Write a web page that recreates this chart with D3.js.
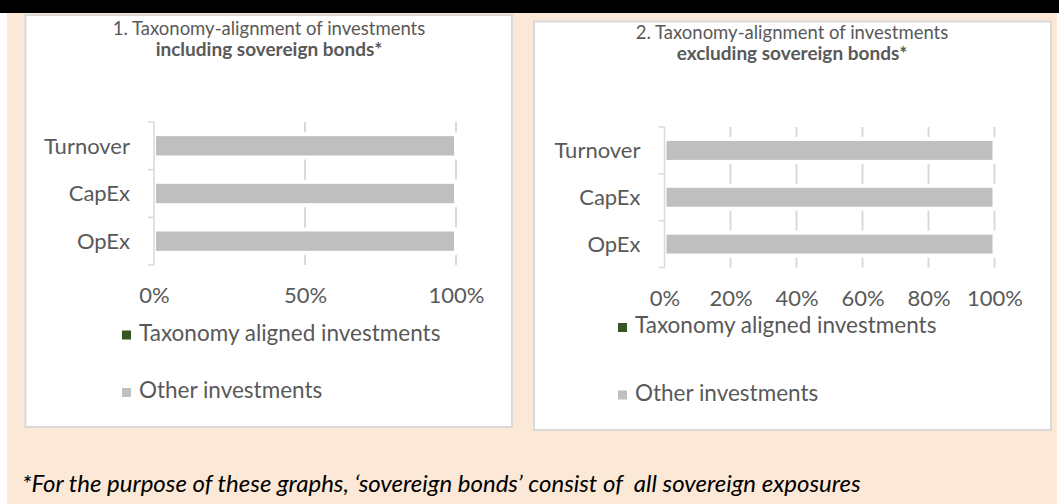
<!DOCTYPE html>
<html>
<head>
<meta charset="utf-8">
<script src="https://cdn.jsdelivr.net/npm/d3@7"></script>
<style>
  body { margin: 0; background: #fff; }
  svg { display: block; font-family: Lato, "Open Sans", sans-serif; }
</style>
</head>
<body>
<script>
// Chart data
const categories = ["Turnover", "CapEx", "OpEx"];
const alignedIncl = [0, 0, 0];
const otherIncl = [100, 100, 100];
const alignedExcl = [0, 0, 0];
const otherExcl = [100, 100, 100];
const ticksIncl = [0, 50, 100];
const ticksExcl = [0, 20, 40, 60, 80, 100];
const seriesNames = ["Taxonomy aligned investments", "Other investments"];
const seriesColors = ["#375623", "#bfbfbf"];
const footnote = "*For the purpose of these graphs, \u2018sovereign bonds\u2019 consist of  all sovereign exposures";

const W = 1059, H = 504;
const textCol = "#595959";
const gridCol = "#d9d9d9";

const svg = d3.select("body").append("svg")
  .attr("width", W)
  .attr("height", H);

// page background: black strip on top, peach area
svg.append("rect").attr("width", W).attr("height", H).attr("fill", "#fff");
svg.append("rect").attr("width", W).attr("height", 13).attr("fill", "#000");
svg.append("rect").attr("x", 7).attr("y", 13).attr("width", 1050).attr("height", H - 13).attr("fill", "#fbe8d7");

function drawPanel(cfg) {
  const g = svg.append("g");

  // white card
  g.append("rect")
    .attr("x", cfg.box[0]).attr("y", cfg.box[1])
    .attr("width", cfg.box[2]).attr("height", cfg.box[3])
    .attr("fill", "#fff")
    .attr("stroke", gridCol)
    .attr("stroke-width", 2);

  // title
  const title = g.append("text")
    .attr("text-anchor", "middle")
    .attr("fill", textCol);
  title.append("tspan")
    .attr("x", cfg.titleX).attr("y", cfg.titleY)
    .style("font-size", "18.5px")
    .text(cfg.title1);
  title.append("tspan")
    .attr("x", cfg.titleX).attr("y", cfg.titleY + 21)
    .attr("font-weight", "bold")
    .style("font-size", "19px")
    .text(cfg.title2);

  const x = d3.scaleLinear().domain([0, 100]).range(cfg.xRange);
  const y = d3.scaleBand().domain(categories).range(cfg.yRange).padding(0);
  const step = y.step();
  const barH = step * 0.49;

  // vertical gridlines
  g.selectAll(".grid")
    .data(cfg.ticks.filter(d => d > 0))
    .enter().append("line")
    .attr("x1", d => x(d)).attr("x2", d => x(d))
    .attr("y1", cfg.yRange[0]).attr("y2", cfg.yRange[1])
    .attr("stroke", gridCol)
    .attr("stroke-width", 2);

  // stacked bars
  const rows = categories.map((c, i) => ({
    cat: c,
    parts: [
      { x0: 0, x1: cfg.aligned[i], color: seriesColors[0] },
      { x0: cfg.aligned[i], x1: cfg.aligned[i] + cfg.other[i], color: seriesColors[1] }
    ]
  }));
  const rowG = g.selectAll(".row")
    .data(rows)
    .enter().append("g");
  rowG.selectAll("rect")
    .data(d => d.parts.map(p => Object.assign({ cat: d.cat }, p)))
    .enter().append("rect")
    .attr("x", d => x(d.x0))
    .attr("y", d => y(d.cat) + (step - barH) / 2)
    .attr("width", d => x(d.x1) - x(d.x0))
    .attr("height", barH)
    .attr("fill", d => d.color)
    .attr("stroke", "#fff")
    .attr("stroke-width", 4);

  // vertical category axis with boundary ticks
  g.append("line")
    .attr("x1", x(0)).attr("x2", x(0))
    .attr("y1", cfg.yRange[0]).attr("y2", cfg.yRange[1])
    .attr("stroke", gridCol)
    .attr("stroke-width", 1.5);
  const bounds = categories.map(c => y(c)).concat([cfg.yRange[1]]);
  g.selectAll(".ytick")
    .data(bounds)
    .enter().append("line")
    .attr("x1", x(0) - 6).attr("x2", x(0))
    .attr("y1", d => d).attr("y2", d => d)
    .attr("stroke", gridCol)
    .attr("stroke-width", 1.5);
  g.selectAll(".ylab")
    .data(categories)
    .enter().append("text")
    .attr("x", x(0) - 24)
    .attr("y", d => y(d) + step / 2)
    .attr("dy", "0.35em")
    .attr("text-anchor", "end")
    .attr("fill", textCol)
    .style("font-size", "22px")
    .text(d => d);

  // percentage axis (labels only)
  const xAxis = g.append("g")
    .attr("transform", `translate(0,${cfg.xLabelY})`)
    .call(d3.axisBottom(x).tickValues(cfg.ticks).tickFormat(d => d + "%").tickSize(0));
  xAxis.select(".domain").remove();
  xAxis.selectAll("text")
    .attr("y", 0)
    .attr("dy", 0)
    .attr("fill", textCol)
    .style("font-family", "Lato, sans-serif")
    .style("font-size", "22px");

  // legend
  const leg = g.selectAll(".leg")
    .data(seriesNames)
    .enter().append("g")
    .attr("transform", (d, i) => `translate(${cfg.legendX},${cfg.legendY[i]})`);
  leg.append("rect")
    .attr("x", 0).attr("y", -10)
    .attr("width", 9).attr("height", 9)
    .attr("fill", (d, i) => seriesColors[i]);
  leg.append("text")
    .attr("x", 17)
    .attr("y", 0)
    .attr("fill", textCol)
    .style("font-size", "22.5px")
    .text(d => d);
}

drawPanel({
  box: [25.5, 15, 486.5, 412],
  title1: "1. Taxonomy-alignment of investments",
  title2: "including sovereign bonds*",
  titleX: 269, titleY: 35,
  xRange: [154, 456],
  yRange: [122, 265],
  ticks: ticksIncl,
  aligned: alignedIncl,
  other: otherIncl,
  xLabelY: 302.5,
  legendX: 122,
  legendY: [340.5, 398]
});

drawPanel({
  box: [534, 21.5, 517, 408.5],
  title1: "2. Taxonomy-alignment of investments",
  title2: "excluding sovereign bonds*",
  titleX: 792, titleY: 39,
  xRange: [664.5, 994.5],
  yRange: [127, 267.5],
  ticks: ticksExcl,
  aligned: alignedExcl,
  other: otherExcl,
  xLabelY: 306,
  legendX: 618,
  legendY: [333, 400.5]
});

// footnote
svg.append("text")
  .attr("x", 22)
  .attr("y", 492)
  .attr("fill", "#000")
  .style("font-size", "24px")
  .style("font-style", "italic")
  .style("white-space", "pre")
  .text(footnote);
</script>
</body>
</html>
